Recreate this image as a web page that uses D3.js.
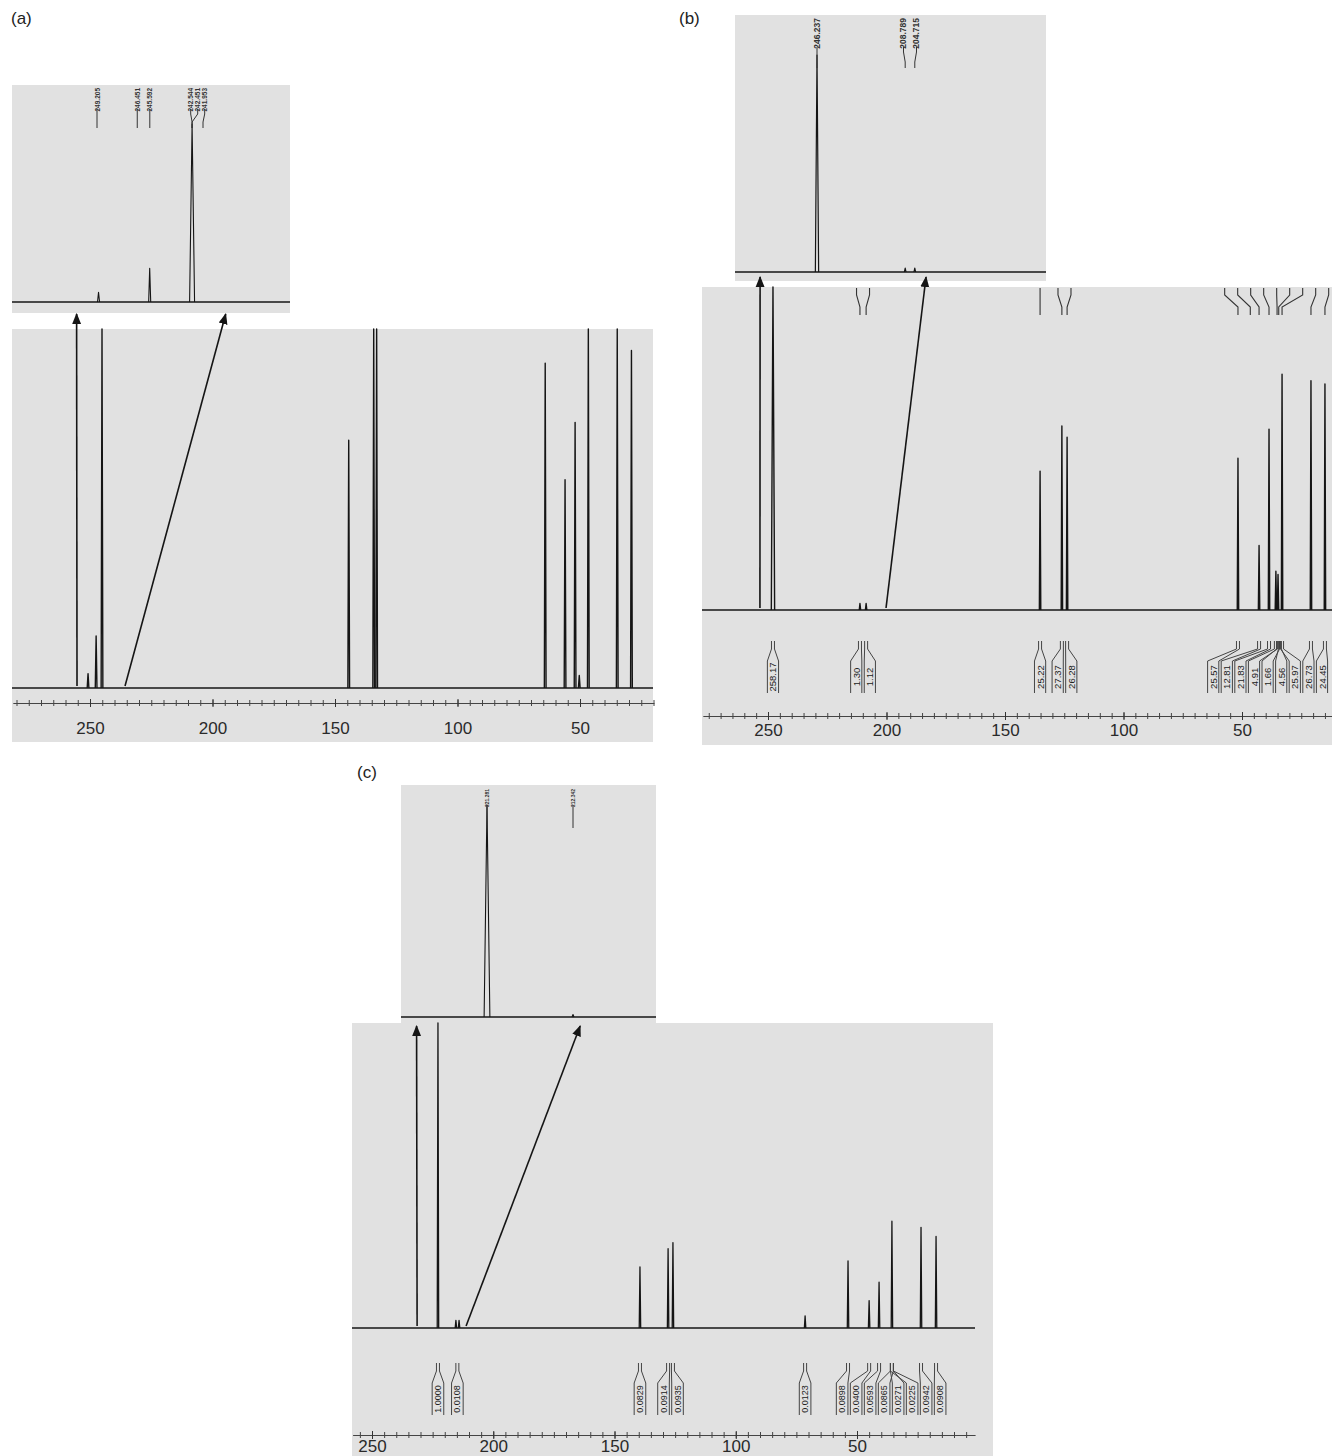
<!DOCTYPE html>
<html><head><meta charset="utf-8">
<script src="https://cdn.jsdelivr.net/npm/d3@7"></script>
<style>body{margin:0;background:#fff;} svg{display:block;font-family:"Liberation Sans",Arial,sans-serif;}</style>
</head><body><svg id="chart" width="1332" height="1456"></svg>
<script>
// ================= DATA =================
const axisTicks = [250, 200, 150, 100, 50];

// ---- Panel (a) ----
const aPeakPpm = [250.8, 247.5, 245.1, 144.4, 134.2, 133.0, 64.2, 56.1, 52.0, 50.3, 46.6, 34.8, 29.0];
const aPeakInt = [0.04, 0.145, 1.3, 0.69, 1.3, 1.3, 0.905, 0.58, 0.74, 0.035, 1.3, 1.3, 0.94];
const aInsetPeakPpm = [249.1, 245.6, 242.7];
const aInsetPeakInt = [0.055, 0.19, 1.0];
const aInsetLabelPpm = [249.205, 246.451, 245.592, 242.544, 242.451, 241.953];
const aInsetLabels = ["249.205", "246.451", "245.592", "242.544", "242.451", "241.953"];
const aArrows = [[255.3, 250.6], [235.7, 240.4]]; // [main ppm, inset ppm]

// ---- Panel (b) ----
const bPeakPpm = [247.9, 211.2, 208.6, 135.2, 126.0, 123.8, 51.7, 42.8, 38.6, 35.7, 34.8, 33.1, 20.9, 15.0];
const bPeakInt = [1.3, 0.02, 0.02, 0.43, 0.57, 0.535, 0.47, 0.20, 0.56, 0.12, 0.11, 0.73, 0.71, 0.70];
const bInsetPeakPpm = [246.237, 208.789, 204.715];
const bInsetPeakInt = [1.0, 0.018, 0.018];
const bInsetLabels = ["246.237", "208.789", "204.715"];
const bTopMarkPpm = [211.2, 208.6, 135.2, 126.0, 123.8, 51.7, 46.5, 42.8, 38.6, 35.2, 34.5, 33.1, 20.9, 15.0];
const bIntegralPpm = [247.9, 211.2, 208.6, 135.2, 126.0, 123.8, 51.7, 42.8, 38.6, 35.7, 34.8, 34.0, 33.1, 20.9, 15.0];
const bIntegralText = ["258.17", "1.30", "1.12", "25.22", "27.37", "26.28", "25.57", "12.81", "21.83", "4.91", "1.66", "4.56", "25.97", "26.73", "24.45"];
const bArrows = [[253.4, 270.4], [200.2, 199.95]];

// ---- Panel (c) ----
const cPeakPpm = [222.8, 215.4, 214.1, 139.5, 127.9, 125.9, 71.4, 53.7, 45.0, 40.9, 35.6, 23.6, 17.4];
const cPeakInt = [1.3, 0.025, 0.025, 0.20, 0.26, 0.28, 0.04, 0.22, 0.09, 0.15, 0.35, 0.33, 0.30];
const cInsetPeakPpm = [221.281, 212.342];
const cInsetPeakInt = [1.0, 0.012];
const cInsetLabels = ["221.281", "212.342"];
const cIntegralPpm = [222.8, 214.8, 139.5, 127.9, 125.9, 71.4, 53.7, 45.0, 40.9, 35.6, 35.6, 35.6, 23.6, 17.4];
const cIntegralText = ["1.0000", "0.0108", "0.0829", "0.0914", "0.0935", "0.0123", "0.0898", "0.0400", "0.0593", "0.0865", "0.0271", "0.0225", "0.0942", "0.0908"];
const cArrows = [[231.4, 228.6], [211.2, 211.6]];

// ================= HELPERS =================
const svg = d3.select("#chart");
const INK = "#151515", GRAY = "#e1e1e1";

const defs = svg.append("defs");
defs.append("marker").attr("id", "ah").attr("viewBox", "0 0 10 10").attr("refX", 9).attr("refY", 5)
  .attr("markerWidth", 7).attr("markerHeight", 7).attr("orient", "auto")
  .append("path").attr("d", "M0,1 L10,5 L0,9 Z").attr("fill", INK);

function spread(xs, gap, maxX) {
  const idx = xs.map((v, i) => i).sort((a, b) => xs[a] - xs[b]);
  let groups = idx.map(i => ({ ids: [i], center: xs[i] }));
  let changed = true;
  while (changed) {
    changed = false;
    for (let k = 0; k < groups.length - 1; k++) {
      const a = groups[k], b = groups[k + 1];
      const aEnd = a.center + (a.ids.length - 1) * gap / 2;
      const bStart = b.center - (b.ids.length - 1) * gap / 2;
      if (bStart - aEnd < gap - 1e-6) {
        const ids = a.ids.concat(b.ids);
        groups.splice(k, 2, { ids, center: d3.mean(ids, i => xs[i]) });
        changed = true; break;
      }
    }
  }
  const out = [];
  groups.forEach(g => {
    let c = g.center;
    if (maxX !== undefined) {
      const end = c + (g.ids.length - 1) * gap / 2;
      if (end > maxX) c -= end - maxX;
    }
    g.ids.forEach((i, j) => out[i] = c + (j - (g.ids.length - 1) / 2) * gap);
  });
  return out;
}

function box(x0, y0, x1, y1) {
  svg.append("rect").attr("x", x0).attr("y", y0).attr("width", x1 - x0).attr("height", y1 - y0).attr("fill", GRAY);
}

function spectrum(x, y, ppm, ints, xFrom, xTo, hw, sw) {
  const g = svg.append("g").attr("stroke", INK).attr("fill", "none").attr("stroke-linejoin", "round");
  g.append("line").attr("x1", xFrom).attr("x2", xTo).attr("y1", y(0)).attr("y2", y(0)).attr("stroke-width", sw + 0.3);
  g.selectAll("path.pk").data(ppm).join("path").attr("class", "pk")
    .attr("stroke-width", sw)
    .attr("d", (p, i) => {
      const w = Array.isArray(hw) ? hw[i] : hw;
      return `M${x(p + w)},${y(0)} L${x(p)},${y(ints[i])} L${x(p - w)},${y(0)}`;
    });
}

function ruler(x, yPos, extent, labelOffset) {
  const xr = x.copy().domain(extent).range(extent.map(x));
  const minor = d3.range(0, 300, 5).filter(v => v <= extent[0] && v >= extent[1]);
  const gMinor = svg.append("g").attr("transform", `translate(0,${yPos})`)
    .call(d3.axisBottom(xr).tickValues(minor).tickSize(3).tickSizeOuter(0).tickFormat(""));
  gMinor.selectAll("line").attr("y1", -3).attr("stroke", "#444");
  gMinor.select(".domain").attr("stroke", "#444").attr("stroke-width", 1);
  const gMaj = svg.append("g").attr("transform", `translate(0,${yPos})`)
    .call(d3.axisBottom(xr).tickValues(axisTicks).tickSize(4).tickPadding(labelOffset).tickFormat(d3.format("d")));
  gMaj.select(".domain").remove();
  gMaj.selectAll("line").attr("y1", -4).attr("stroke", "#333");
  gMaj.selectAll("text").attr("font-size", 17).attr("fill", "#2a2a2a").attr("font-family", "Liberation Sans, Arial, sans-serif");
}

function arrows(list, xMain, yMainBase, xIn, yInBottom) {
  list.forEach(([mp, ip]) => {
    svg.append("line").attr("x1", xMain(mp)).attr("y1", yMainBase - 2)
      .attr("x2", xIn(ip)).attr("y2", yInBottom + 1)
      .attr("stroke", INK).attr("stroke-width", 1.6).attr("marker-end", "url(#ah)");
  });
}

// label text (vertical) + leader line to a peak
function insetLabels(x, labelPpm, targetPpm, texts, gap, yTop, textLen, fs, yBend1, yBend2, yEnd) {
  const pos = spread(labelPpm.map(p => x(p)), gap);
  const g = svg.append("g");
  texts.forEach((t, i) => {
    g.append("text").attr("transform", `translate(${pos[i]},${yTop}) rotate(-90)`)
      .attr("text-anchor", "end").attr("dominant-baseline", "central")
      .attr("font-size", fs).attr("font-weight", "bold").attr("fill", "#333").text(t);
    const tx = x(targetPpm[i]);
    g.append("path").attr("fill", "none").attr("stroke", "#333").attr("stroke-width", 1)
      .attr("d", `M${pos[i]},${yTop + textLen + 2} L${pos[i]},${yBend1} L${tx},${yBend2} L${tx},${yEnd}`);
  });
}

function topMarks(x, ppm, gap, y0, maxX) {
  const pos = spread(ppm.map(p => x(p)), gap, maxX);
  const g = svg.append("g").attr("fill", "none").attr("stroke", "#333").attr("stroke-width", 1.1);
  ppm.forEach((p, i) => {
    g.append("path").attr("d", `M${pos[i]},${y0} L${pos[i]},${y0 + 7} L${x(p)},${y0 + 19} L${x(p)},${y0 + 27}`);
  });
}

function integrals(x, ppm, texts, gap, y0, fs, maxX) {
  const pos = spread(ppm.map(p => x(p)), gap, maxX);
  const g = svg.append("g");
  ppm.forEach((p, i) => {
    const px = x(p), bx = pos[i], hw = gap / 2 - 1.2;
    g.append("path").attr("fill", "none").attr("stroke", "#444").attr("stroke-width", 1)
      .attr("d", `M${px - 1.5},${y0} L${px - 1.5},${y0 + 8} L${bx - hw},${y0 + 20} L${bx - hw},${y0 + 52}` +
                 `M${px + 1.5},${y0} L${px + 1.5},${y0 + 8} L${bx + hw},${y0 + 20} L${bx + hw},${y0 + 52}`);
    g.append("text").attr("transform", `translate(${bx},${y0 + 36}) rotate(-90)`)
      .attr("text-anchor", "middle").attr("dominant-baseline", "central")
      .attr("font-size", fs).attr("fill", "#222").text(texts[i]);
  });
}

function panelLabel(t, x, y) {
  svg.append("text").attr("x", x).attr("y", y).attr("font-size", 17).attr("fill", "#222").text(t);
}

// ================= PANEL (a) =================
panelLabel("(a)", 11, 24);
const axI = d3.scaleLinear().domain([249.205, 241.953]).range([97, 203]);
const ayI = d3.scaleLinear().domain([0, 1]).range([302, 124]).clamp(true);
box(12, 85, 290, 313);
spectrum(axI, ayI, aInsetPeakPpm, aInsetPeakInt, 12, 290, [0.07, 0.07, 0.17], 1.1);
const aTargets = [249.205, 246.451, 245.592, 242.7, 242.7, 241.953];
insetLabels(axI, aInsetLabelPpm, aTargets, aInsetLabels, 7, 88, 19, 6.5, 114, 122, 128);

const axM = d3.scaleLinear().domain([250, 50]).range([90, 580]);
const ayM = d3.scaleLinear().domain([0, 1]).range([688, 329]).clamp(true);
box(12, 329, 653, 742);
spectrum(axM, ayM, aPeakPpm, aPeakInt, 12, 653, 0.35, 1.4);
ruler(axM, 703, [281.5, 19.8], 15);
arrows(aArrows, axM, 688, axI, 313);

// ================= PANEL (b) =================
panelLabel("(b)", 679, 24);
const bxI = d3.scaleLinear().domain([246.237, 206.75]).range([817, 910]);
const byI = d3.scaleLinear().domain([0, 1]).range([272, 55]).clamp(true);
box(735, 15, 1046, 281);
spectrum(bxI, byI, bInsetPeakPpm, bInsetPeakInt, 735, 1046, [0.7, 0.35, 0.35], 1.2);
insetLabels(bxI, [246.237, 208.789, 204.715], [246.237, 208.789, 204.715], bInsetLabels, 13, 18, 27, 8.5, 52, 62, 68);

const bxM = d3.scaleLinear().domain([250, 50]).range([768, 1242]);
const byM = d3.scaleLinear().domain([0, 1]).range([610, 287]).clamp(true);
box(702, 287, 1332, 745);
spectrum(bxM, byM, bPeakPpm, bPeakInt, 702, 1332, [0.7, 0.3, 0.3, 0.3, 0.3, 0.3, 0.3, 0.3, 0.3, 0.3, 0.3, 0.3, 0.3, 0.3], 1.4);
topMarks(bxM, bTopMarkPpm, 13, 288, 1330);
integrals(bxM, bIntegralPpm, bIntegralText, 13.6, 641, 9.5, 1322);
ruler(bxM, 716, [277.5, 12], 4);
arrows(bArrows, bxM, 610, bxI, 276);

// ================= PANEL (c) =================
panelLabel("(c)", 357, 778);
const cxI = d3.scaleLinear().domain([221.281, 212.342]).range([487, 573]);
const cyI = d3.scaleLinear().domain([0, 1]).range([1017, 805]).clamp(true);
box(401, 785, 656, 1025);
spectrum(cxI, cyI, cInsetPeakPpm, cInsetPeakInt, 401, 656, [0.3, 0.1], 1.1);
insetLabels(cxI, [221.281, 212.342], [221.281, 212.342], cInsetLabels, 8, 789, 14, 5, 815, 820, 828);

const cxM = d3.scaleLinear().domain([250, 50]).range([372, 857]);
const cyM = d3.scaleLinear().domain([0, 1]).range([1328, 1023]).clamp(true);
box(352, 1023, 993, 1456);
spectrum(cxM, cyM, cPeakPpm, cPeakInt, 352, 975, 0.3, 1.3);
integrals(cxM, cIntegralPpm, cIntegralText, 14, 1363, 9);
ruler(cxM, 1435, [258, 1.3], 1);
arrows(cArrows, cxM, 1328, cxI, 1025);
</script>
</body></html>
